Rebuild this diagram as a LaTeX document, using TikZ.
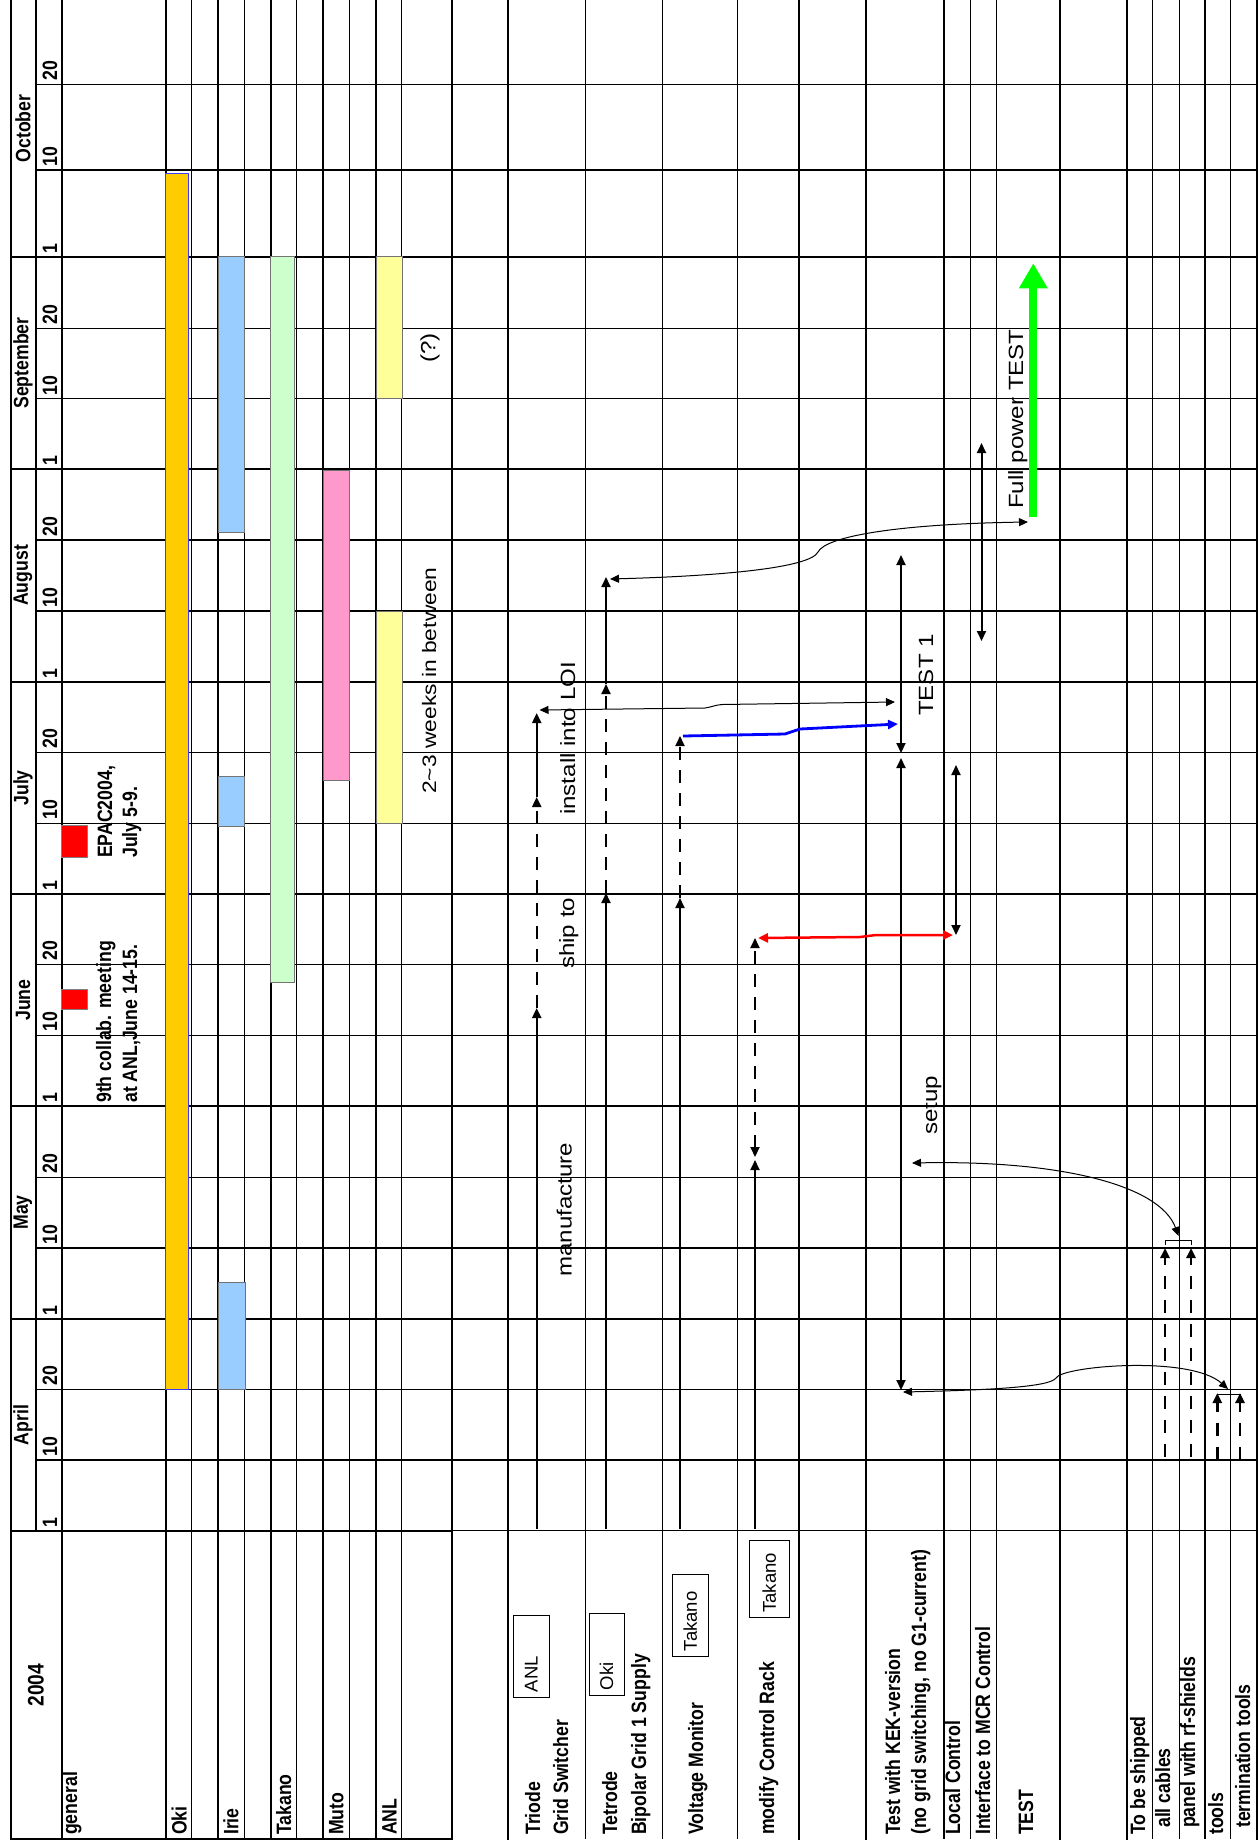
\documentclass[tikz,border=0pt]{standalone}
\usepackage{fontspec}
\setmainfont{Liberation Sans}
\newfontfamily\narrowsans[FakeStretch=0.85]{Liberation Sans}
\newfontfamily\widesans[FakeStretch=1.17]{Liberation Sans}
\usetikzlibrary{arrows.meta}

\definecolor{okibar}{RGB}{255,204,0}
\definecolor{okiedge}{RGB}{60,60,255}
\definecolor{iriebar}{RGB}{153,204,255}
\definecolor{takanobar}{RGB}{204,255,204}
\definecolor{mutobar}{RGB}{255,153,204}
\definecolor{anlbar}{RGB}{255,255,153}
\definecolor{eventred}{RGB}{255,0,0}
\definecolor{fullgreen}{RGB}{0,255,0}

\tikzset{
  thickrule/.style={line width=2.2pt, line cap=rect},
  thinrule/.style={line width=1.1pt},
  lbl/.style={rotate=90, anchor=base west, inner sep=0pt,
    font=\narrowsans\bfseries\fontsize{20.8pt}{24pt}\selectfont},
  monthlbl/.style={lbl, anchor=center},
  note/.style={rotate=90, anchor=base west, inner sep=0pt,
    font=\widesans\fontsize{20.6pt}{24pt}\selectfont},
  whobox/.style={draw, line width=1pt, rotate=90, inner xsep=5pt, inner ysep=0pt,
    align=left, font=\fontsize{18.5pt}{22pt}\selectfont},
  bar/.style={draw=black!55, line width=0.8pt},
  job/.style={line width=2pt, -{Triangle[length=10pt,width=9pt]}},
  jobboth/.style={line width=2pt, {Triangle[length=10pt,width=9pt]}-{Triangle[length=10pt,width=9pt]}},
  link/.style={line width=1pt, {Triangle[length=9pt,width=8pt]}-{Triangle[length=9pt,width=8pt]}},
  later/.style={dash pattern=on 13pt off 10pt},
  ship/.style={line width=2.5pt, dash pattern=on 13pt off 11pt, -{Triangle[length=10pt,width=9pt]}},
}

\begin{document}
\begin{tikzpicture}[x=1pt,y=-1pt]
\useasboundingbox (0,0) rectangle (1259,1845);

% Grid: month boundaries
\foreach \y in {1319,1106,894,681.7,469.3,256.7}
  \draw[thickrule] (10.7,\y) -- (1256.7,\y);
\draw[thickrule] (10.7,1530.7) -- (452.3,1530.7);
\draw[thinrule] (452.3,1530.7) -- (1256.7,1530.7);

% Grid: 10th and 20th of each month
\foreach \y in {1460,1389.3,1248,1177.3,1035.3,964.3,823.3,752.3,611,540,398.7,328.3,170,84.3}
  \draw[thinrule] (36,\y) -- (1256.7,\y);
\draw[thinrule] (36,0) -- (36,1530.7);

% Grid: rows
\foreach \x in {10.7,62,165.7,218.3,270.7,323.3,376,452.3,507.7,799,866,1060,1127.3,1256.7}
  \draw[thickrule] (\x,0) -- (\x,1839);
\foreach \x in {191.7,244.3,296.7,349.3,401.7,585.7,662.7,737.3,944,970.7,996.7,1152.7,1179.3,1205,1230.7}
  \draw[thinrule] (\x,0) -- (\x,1839);
\draw[thickrule] (10.7,1839) -- (452.3,1839);

% Calendar
\node[monthlbl, font=\narrowsans\bfseries\fontsize{22.5pt}{26pt}\selectfont] (year) at (36,1685) {2004};
\foreach \m/\y [count=\i] in {April/1424.9,May/1212.5,June/1000,July/787.9,August/575.5,September/363,October/128.4}
  \node[monthlbl] (month\i) at (23,\y) {\m};
\foreach \ya/\yb/\yc [count=\i] in {1530.7/1460/1389.3,1319/1248/1177.3,1106/1035.3/964.3,894/823.3/752.3,681.7/611/540,469.3/398.7/328.3,256.7/170/84.3}{
  \node[lbl] (first\i) at (57,\ya-3.5) {1};
  \node[lbl] (tenth\i) at (57,\yb-3.5) {10};
  \node[lbl] (twentieth\i) at (57,\yc-3.5) {20};
}

% Row labels: people
\node[lbl] (general) at (77,1835) {general};
\node[lbl] (oki) at (186.7,1835) {Oki};
\node[lbl] (irie) at (238.3,1835) {Irie};
\node[lbl] (takano) at (291,1835) {Takano};
\node[lbl] (muto) at (343.3,1835) {Muto};
\node[lbl] (anl) at (396.7,1835) {ANL};

% Row labels: tasks
\node[lbl] (triode) at (540,1835) {Triode};
\node[lbl] (gridsw) at (568,1835) {Grid Switcher};
\node[lbl] (tetrode) at (617,1835) {Tetrode};
\node[lbl] (bipolar) at (646,1835) {Bipolar Grid 1 Supply};
\node[lbl] (voltmon) at (703,1835) {Voltage Monitor};
\node[lbl] (rack) at (774,1835) {modify Control Rack};
\node[lbl] (kektest) at (900,1835) {Test with KEK-version};
\node[lbl] (keknote) at (926,1835) {(no grid switching, no G1-current)};
\node[lbl] (localctl) at (960,1835) {Local Control};
\node[lbl] (mcrctl) at (990,1835) {Interface to MCR Control};
\node[lbl] (testrow) at (1033,1835) {TEST};
\node[lbl] (shipped) at (1145,1835) {To be shipped};
\node[lbl] (cables) at (1170,1828) {all cables};
\node[lbl] (panel) at (1195,1828) {panel with rf-shields};
\node[lbl] (tools) at (1223,1835) {tools};
\node[lbl] (termtools) at (1250,1828) {termination tools};

% Who does it
\node[whobox, minimum width=82pt, minimum height=36pt, text width=72pt] (byanl) at (531.2,1656) {ANL};
\node[whobox, minimum width=82pt, minimum height=35pt, text width=72pt] (byoki) at (606.5,1654) {Oki};
\node[whobox, minimum width=82pt, minimum height=36pt, text width=72pt] (bytakano) at (690.3,1615.2) {Takano};
\node[whobox, minimum width=77pt, minimum height=40pt, text width=67pt] (byrack) at (769.3,1579.2) {Takano};

% Availability bars
\filldraw[fill=okibar, draw=okiedge, line width=1pt] (165.7,173.3) rectangle (188.3,1389.3);
\filldraw[fill=iriebar, bar] (218.3,256.7) rectangle (244.3,532);
\filldraw[fill=iriebar, bar] (218.3,776.6) rectangle (244.3,826.7);
\filldraw[fill=iriebar, bar] (218.3,1282.5) rectangle (245,1389.3);
\filldraw[fill=takanobar, bar] (270.7,256.7) rectangle (294.2,982.5);
\filldraw[fill=mutobar, bar] (323.3,470) rectangle (349.3,780);
\filldraw[fill=anlbar, bar] (376,256.7) rectangle (402.7,398.3);
\filldraw[fill=anlbar, bar] (376,611.8) rectangle (402.7,823.6);
\node[note, anchor=center] (unsure) at (430,348) {(?)};
\node[note, font=\widesans\fontsize{19.5pt}{23pt}\selectfont] (weeks) at (436,794) {2\textasciitilde 3 weeks in between};

% Events
\filldraw[fill=eventred, draw=black!50, line width=0.8pt] (61.7,825.7) rectangle (87.3,857.7);
\filldraw[fill=eventred, draw=black!50, line width=0.8pt] (61.7,989) rectangle (87.3,1009);
\node[lbl] (collab) at (111,1103) {9th collab. meeting};
\node[lbl] (collabwhere) at (137,1103) {at ANL,June 14-15.};
\node[lbl] (epac) at (112,858) {EPAC2004,};
\node[lbl] (epacwhen) at (137,858) {July 5-9.};

% Triode grid switcher
\coordinate (tri0) at (536.7,1529);
\coordinate (tri1) at (536.7,1008);
\coordinate (tri2) at (536.7,797);
\coordinate (tri3) at (536.7,713);
\draw[job] (tri0) -- (tri1);
\draw[job, later] (tri1) -- (tri2);
\draw[job] (tri2) -- (tri3);
\node[note] (manuf) at (571.7,1277) {manufacture};
\node[note] (shipto) at (574,969) {ship to};
\node[note] (install) at (575,815) {install into LOI};

% Tetrode supply
\coordinate (tet0) at (606,1529);
\coordinate (tet1) at (606,893);
\coordinate (tet2) at (606,684);
\coordinate (tet3) at (606,577);
\draw[job] (tet0) -- (tet1);
\draw[job, later] (tet1) -- (tet2);
\draw[job] (tet2) -- (tet3);

% Voltage monitor
\coordinate (vm0) at (680,1529);
\coordinate (vm1) at (680,898);
\coordinate (vm2) at (680,736);
\draw[job] (vm0) -- (vm1);
\draw[job, later] (vm1) -- (vm2);

% Control rack
\coordinate (rk0) at (755,1529);
\coordinate (rk1) at (755,1160);
\coordinate (rk2) at (755,1157);
\coordinate (rk3) at (755,938);
\draw[job] (rk0) -- (rk1);
\draw[jobboth, later] (rk2) -- (rk3);

% Tests and controls
\coordinate (kek0) at (901,555);
\coordinate (kek1) at (901,753);
\coordinate (kek2) at (901,758);
\coordinate (kek3) at (901,1390);
\draw[jobboth] (kek0) -- (kek1);
\draw[jobboth] (kek2) -- (kek3);
\node[note] (test1) at (933,716) {TEST 1};
\node[note] (setup) at (937,1135) {setup};
\coordinate (loc0) at (956,765);
\coordinate (loc1) at (956,935);
\draw[jobboth] (loc0) -- (loc1);
\coordinate (mcr0) at (981.5,443);
\coordinate (mcr1) at (981.5,641);
\draw[jobboth] (mcr0) -- (mcr1);
\coordinate (full0) at (1033.3,516.7);
\coordinate (full1) at (1033.3,263.3);
\draw[line width=8pt, fullgreen, -{Triangle[length=25pt,width=27pt]}] (full0) -- (full1);
\node[note] (fullpow) at (1023,509) {Full power TEST};

% Hand-overs
\coordinate (rackL) at (758,938);
\coordinate (rackR) at (953,935);
\draw[line width=2.5pt, eventred, line join=round, {Triangle[length=10pt,width=9pt]}-{Triangle[length=10pt,width=9pt]}]
  (rackL) -- (860,937) -- (876,935) -- (rackR);
\coordinate (vmL) at (683,736);
\coordinate (vmR) at (898,724);
\draw[line width=2.8pt, blue, line join=round, -{Triangle[length=10pt,width=9pt]}]
  (vmL) -- (785,734) -- (800,729) -- (vmR);
\coordinate (loiL) at (539.5,710);
\coordinate (loiR) at (895,702);
\draw[link] (loiL) -- (705,708) .. controls (712,707) and (715,705) .. (722,704.5) -- (loiR);
\coordinate (tetL) at (610,579);
\coordinate (tetR) at (1028,522);
\draw[link] (tetL) .. controls (720,576) and (810,568) .. (818,552)
  .. controls (826,536) and (900,524) .. (tetR);

% Shipping
\coordinate (cab0) at (1165,1457);
\coordinate (cab1) at (1165,1248);
\coordinate (pan0) at (1191,1457);
\coordinate (pan1) at (1191,1248);
\coordinate (too0) at (1217.3,1460);
\coordinate (too1) at (1217.3,1393);
\coordinate (ter0) at (1240,1460);
\coordinate (ter1) at (1240,1393);
\draw[ship] (cab0) -- (cab1);
\draw[ship] (pan0) -- (pan1);
\draw[ship] (too0) -- (too1);
\draw[ship] (ter0) -- (ter1);
\draw[line width=1pt] (1165,1245) -- (1165,1240) -- (1191,1240) -- (1191,1245);
\draw[line width=1pt] (1217.3,1397) -- (1217.3,1394) -- (1240,1394) -- (1240,1397);
\coordinate (setL) at (912,1163);
\coordinate (setR) at (1178.5,1236);
\draw[link] (setL) .. controls (1060,1160) and (1160,1185) .. (setR);
\coordinate (lowL) at (903,1392);
\coordinate (lowR) at (1228,1389);
\draw[link] (lowL) .. controls (990,1390) and (1050,1387) .. (1056,1378)
  .. controls (1062,1366) and (1190,1355) .. (lowR);

\end{tikzpicture}
\end{document}
